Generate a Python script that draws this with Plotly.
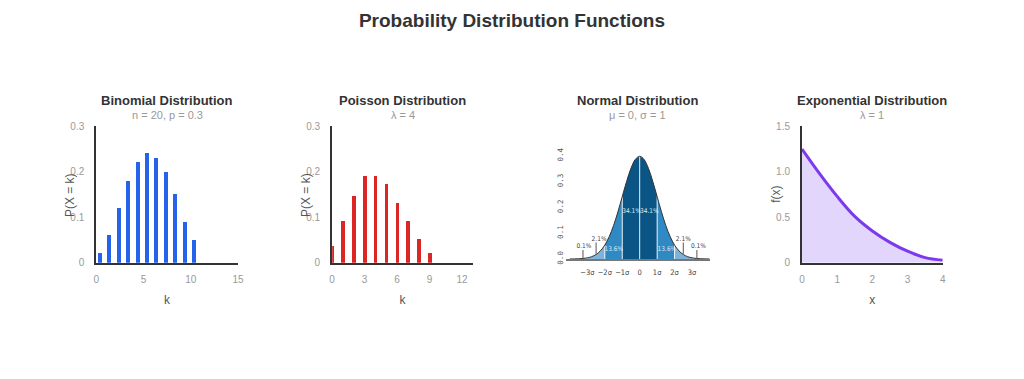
import plotly.graph_objects as go

# ---------------- data ----------------
binom_k = list(range(0, 11))
binom_p = [0.02, 0.06, 0.12, 0.18, 0.22, 0.24, 0.23, 0.20, 0.15, 0.09, 0.05]

pois_k = list(range(0, 10))
pois_p = [0.036, 0.091, 0.147, 0.191, 0.191, 0.172, 0.131, 0.091, 0.051, 0.02]

norm_x = [-4.0, -3.75, -3.5, -3.25, -3.0, -2.75, -2.5, -2.25, -2.0, -1.75, -1.5, -1.25, -1.0,
          -0.75, -0.5, -0.25, 0.0, 0.25, 0.5, 0.75, 1.0, 1.25, 1.5, 1.75, 2.0, 2.25, 2.5,
          2.75, 3.0, 3.25, 3.5, 3.75, 4.0]
norm_y = [0.0001, 0.0004, 0.0009, 0.0020, 0.0044, 0.0091, 0.0175, 0.0317, 0.0540, 0.0863,
          0.1295, 0.1826, 0.2420, 0.3011, 0.3521, 0.3867, 0.3989, 0.3867, 0.3521, 0.3011,
          0.2420, 0.1826, 0.1295, 0.0863, 0.0540, 0.0317, 0.0175, 0.0091, 0.0044, 0.0020,
          0.0009, 0.0004, 0.0001]
norm_bounds = [-4.0, -3.0, -2.0, -1.0, 0.0, 1.0, 2.0, 3.0, 4.0]
norm_colors = ["#bcd6ee", "#7db2da", "#2f89c3", "#0b5586", "#0b5586", "#2f89c3", "#7db2da", "#bcd6ee"]
norm_tick_vals = [-3, -2, -1, 0, 1, 2, 3]
norm_tick_text = ["−3σ", "−2σ", "−1σ", "0", "1σ", "2σ", "3σ"]
norm_y_ticks = [0.0, 0.1, 0.2, 0.3, 0.4]
norm_y_text = ["0.0", "0.1", "0.2", "0.3", "0.4"]
pct_text = ["0.1%", "2.1%", "13.6%", "34.1%", "34.1%", "13.6%", "2.1%", "0.1%"]
pct_x = [-3.2, -2.33, -1.48, -0.47, 0.55, 1.56, 2.5, 3.37]
pct_y = [0.048, 0.075, 0.039, 0.185, 0.185, 0.039, 0.075, 0.048]
pct_color = ["#444", "#444", "#dbe8f4", "#dbe8f4", "#dbe8f4", "#dbe8f4", "#444", "#444"]
leader_x = [-3.25, -2.5, 2.5, 3.28]
leader_top = [0.035, 0.064, 0.064, 0.035]
leader_bot = [0.0, 0.02, 0.02, 0.0]

exp_x = [0, 0.5, 1.0, 1.5, 2.0, 2.5, 3.0, 3.5, 4.0]
exp_y = [1.25, 0.98, 0.73, 0.51, 0.35, 0.225, 0.128, 0.058, 0.03]

# ---------------- figure ----------------
W, H = 1024, 379
OX, OY = 8, 8  # page body margin offset


def px(x):
    return (x - OX) / W


def py(y):
    return (H - (y - OY)) / H


fig = go.Figure()

fig.add_trace(go.Bar(x=binom_k, y=binom_p, width=0.42, offset=0.19,
                     marker=dict(color="#2563eb", line=dict(width=0)),
                     xaxis="x", yaxis="y", showlegend=False))
fig.add_trace(go.Bar(x=pois_k, y=pois_p, width=0.32, offset=-0.13,
                     marker=dict(color="#dc2626", line=dict(width=0)),
                     xaxis="x2", yaxis="y2", showlegend=False))

# normal regions
for i in range(len(norm_bounds) - 1):
    lo, hi = norm_bounds[i], norm_bounds[i + 1]
    xs = [x for x in norm_x if lo <= x <= hi]
    ys = [y for x, y in zip(norm_x, norm_y) if lo <= x <= hi]
    fig.add_trace(go.Scatter(x=xs, y=ys, mode="lines", fill="tozeroy",
                             fillcolor=norm_colors[i], line=dict(width=0, shape="spline"),
                             xaxis="x3", yaxis="y3", showlegend=False, hoverinfo="skip"))
# white separators
for b in norm_bounds[2:-2]:
    yb = norm_y[norm_x.index(b)]
    fig.add_trace(go.Scatter(x=[b, b], y=[0, yb], mode="lines",
                             line=dict(color="rgba(255,255,255,0.85)", width=1),
                             xaxis="x3", yaxis="y3", showlegend=False, hoverinfo="skip"))
# outline
fig.add_trace(go.Scatter(x=norm_x, y=norm_y, mode="lines",
                         line=dict(color="#333", width=1, shape="spline"),
                         xaxis="x3", yaxis="y3", showlegend=False, hoverinfo="skip"))
# leader lines
for lx, lt, lb in zip(leader_x, leader_top, leader_bot):
    fig.add_trace(go.Scatter(x=[lx, lx], y=[lb, lt], mode="lines",
                             line=dict(color="#555", width=1),
                             xaxis="x3", yaxis="y3", showlegend=False, hoverinfo="skip"))
# percentage labels
fig.add_trace(go.Scatter(x=pct_x, y=pct_y, mode="text", text=pct_text,
                         textfont=dict(family="Liberation Sans Narrow, DejaVu Sans Condensed, sans-serif",
                                       size=6.5, color=pct_color),
                         xaxis="x3", yaxis="y3", showlegend=False, hoverinfo="skip"))

fig.add_trace(go.Scatter(x=exp_x, y=exp_y, mode="lines", fill="tozeroy",
                         fillcolor="rgba(139,92,246,0.25)",
                         line=dict(color="#7c3aed", width=3, shape="spline"),
                         xaxis="x4", yaxis="y4", showlegend=False))

ybot, ytop = py(265), py(124)
tickfont = dict(family="Liberation Sans, Arial, sans-serif", size=10, color="#999")
titlefont = dict(family="Liberation Sans, Arial, sans-serif", size=12, color="#555")


def xax(dom, rng, tv, title, anchor):
    return dict(domain=dom, range=rng, tickvals=tv, showgrid=False, zeroline=False,
                showline=True, linecolor="#333", linewidth=2, ticks="", tickfont=tickfont,
                ticklabelstandoff=6, title=dict(text=title, font=titlefont, standoff=12),
                anchor=anchor, fixedrange=True)


def yax(rng, tv, tt, anchor):
    return dict(domain=[ybot, ytop], range=rng, tickvals=tv, ticktext=tt, showgrid=False,
                zeroline=False, showline=True, linecolor="#333", linewidth=2, ticks="",
                tickfont=tickfont, ticklabelstandoff=8, anchor=anchor, fixedrange=True)


fig.update_layout(
    width=W, height=H, margin=dict(l=0, r=0, t=0, b=0),
    paper_bgcolor="white", plot_bgcolor="white", bargap=0,
    font=dict(family="Liberation Sans, Arial, sans-serif"),
    title=dict(text="<b>Probability Distribution Functions</b>", x=px(512), xanchor="center",
               y=py(20), yanchor="middle",
               font=dict(size=19, color="#333", family="Liberation Sans, Arial, sans-serif")),
    xaxis=xax([px(94), px(237)], [0, 15], [0, 5, 10, 15], "k", "y"),
    yaxis=yax([0, 0.3], [0, 0.1, 0.2, 0.3], ["0", "0.1", "0.2", "0.3"], "x"),
    xaxis2=xax([px(332), px(474)], [0, 13], [0, 3, 6, 9, 12], "k", "y2"),
    yaxis2=yax([0, 0.3], [0, 0.1, 0.2, 0.3], ["0", "0.1", "0.2", "0.3"], "x2"),
    xaxis3=dict(domain=[px(568), px(713)], range=[-4.22, 4.02], tickvals=norm_tick_vals,
                ticktext=norm_tick_text, tickangle=0, showgrid=False, zeroline=False,
                showline=True, linecolor="#777", linewidth=2, ticks="", ticklabelstandoff=5,
                tickfont=dict(family="Liberation Sans Narrow, DejaVu Sans Condensed, sans-serif",
                              size=7.5, color="#444"), anchor="y3", fixedrange=True),
    yaxis3=dict(domain=[py(261), py(150)], range=[0, 111 / 266],
                tickvals=norm_y_ticks, ticktext=norm_y_text, tickangle=-90, showgrid=False,
                zeroline=False, showline=False, ticks="", ticklabelstandoff=1,
                tickfont=dict(family="DejaVu Sans Mono, monospace", size=7.5, color="#555"),
                anchor="x3", fixedrange=True),
    xaxis4=xax([px(806), px(948)], [0, 4], [0, 1, 2, 3, 4], "x", "y4"),
    yaxis4=yax([0, 1.5], [0, 0.5, 1.0, 1.5], ["0", "0.5", "1.0", "1.5"], "x4"),
)

# y-axis titles (placed to overlap tick labels slightly, as in the reference)
for ytitle, axis_px in [("P(X = k)", 94), ("P(X = k)", 332), ("f(x)", 806)]:
    fig.add_annotation(text=ytitle, textangle=-90, x=px(axis_px - 27), y=py(194.5),
                       xref="paper", yref="paper", showarrow=False,
                       xanchor="center", yanchor="middle", font=titlefont)

titles = [("Binomial Distribution", "n = 20, p = 0.3", 165.5),
          ("Poisson Distribution", "λ = 4", 403),
          ("Normal Distribution", "μ = 0, σ = 1", 640.5),
          ("Exponential Distribution", "λ = 1", 877)]
for t, s, cx in titles:
    fig.add_annotation(text="<b>" + t + "</b>", x=px(cx), y=py(97), xref="paper",
                       yref="paper", showarrow=False, xanchor="center", yanchor="middle",
                       font=dict(size=13, color="#333", family="Liberation Sans, Arial, sans-serif"))
    fig.add_annotation(text=s, x=px(cx), y=py(112), xref="paper", yref="paper",
                       showarrow=False, xanchor="center", yanchor="middle",
                       font=dict(size=11, color="#999", family="Liberation Sans, Arial, sans-serif"))

fig.write_html("out.html")
